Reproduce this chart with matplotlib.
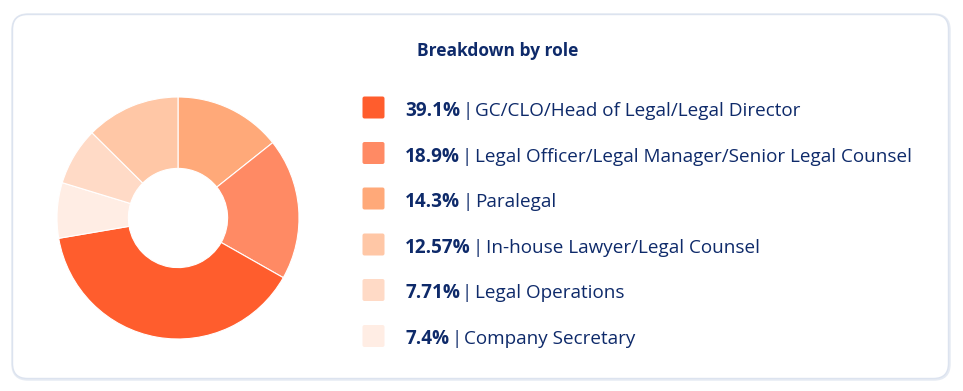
import matplotlib.pyplot as plt
from matplotlib.patches import FancyBboxPatch

# data (legend order)
roles = ["GC/CLO/Head of Legal/Legal Director",
         "Legal Officer/Legal Manager/Senior Legal Counsel",
         "Paralegal",
         "In-house Lawyer/Legal Counsel",
         "Legal Operations",
         "Company Secretary"]
shares = [39.1, 18.9, 14.3, 12.57, 7.71, 7.4]
share_labels = ["39.1%", "18.9%", "14.3%", "12.57%", "7.71%", "7.4%"]
colors = ["#FF5D2D", "#FF8A64", "#FFA979", "#FFC7A6", "#FFDAC6", "#FFEDE4"]

# order the slices go round the donut, clockwise from 12 o'clock
pie_order = [2, 1, 0, 5, 4, 3]

navy = "#0E2A6A"
W, H = 963, 391
plt.rcParams['font.family'] = ['Open Sans', 'DejaVu Sans']

fig = plt.figure(figsize=(W / 100, H / 100), dpi=100)
fig.patch.set_facecolor("white")

# card
bg = fig.add_axes([0, 0, 1, 1])
bg.set_xlim(0, W)
bg.set_ylim(H, 0)
bg.axis("off")
bg.add_patch(FancyBboxPatch((13, 15), 936, 364, boxstyle="round,pad=0,rounding_size=15",
                            facecolor="none", edgecolor="#E6EBF3", linewidth=2.5))
bg.add_patch(FancyBboxPatch((12.5, 14.5), 936, 364, boxstyle="round,pad=0,rounding_size=15",
                            facecolor="white", edgecolor="#DCE3EF", linewidth=1))

# donut
cx, cy, r = 178, 218, 121
ax = fig.add_axes([(cx - r) / W, 1 - (cy + r) / H, 2 * r / W, 2 * r / H])
ax.pie([shares[i] for i in pie_order], colors=[colors[i] for i in pie_order],
       startangle=90, counterclock=False, radius=1,
       wedgeprops=dict(width=0.59, edgecolor="white", linewidth=0.8))
ax.set_xlim(-1, 1)
ax.set_ylim(-1, 1)
ax.set_aspect("equal")
ax.axis("off")

# title
bg.text(498, 56, "Breakdown by role", fontsize=12.5, fontweight="bold", color=navy,
        ha="center", va="baseline")

# legend
fig.canvas.draw()
renderer = fig.canvas.get_renderer()
row_y = [107.5, 153, 198.5, 244.5, 290, 336]
fs = 13.6
for i in range(len(roles)):
    y = row_y[i]
    bg.add_patch(FancyBboxPatch((362.5, y - 11), 22, 22, boxstyle="round,pad=0,rounding_size=2",
                                facecolor=colors[i], edgecolor="none"))
    t = bg.text(405, y + 8.5, share_labels[i], fontsize=fs, fontweight="bold", color=navy,
                ha="left", va="baseline")
    x1 = t.get_window_extent(renderer).x1
    bar = bg.text(x1 + 2, y + 8.5, "|", fontsize=fs, color=navy, ha="left", va="baseline")
    x2 = bar.get_window_extent(renderer).x1
    bg.text(x2 + 2.5, y + 8.5, roles[i], fontsize=fs, color=navy, ha="left", va="baseline")

fig.savefig("out.png", dpi=100)
